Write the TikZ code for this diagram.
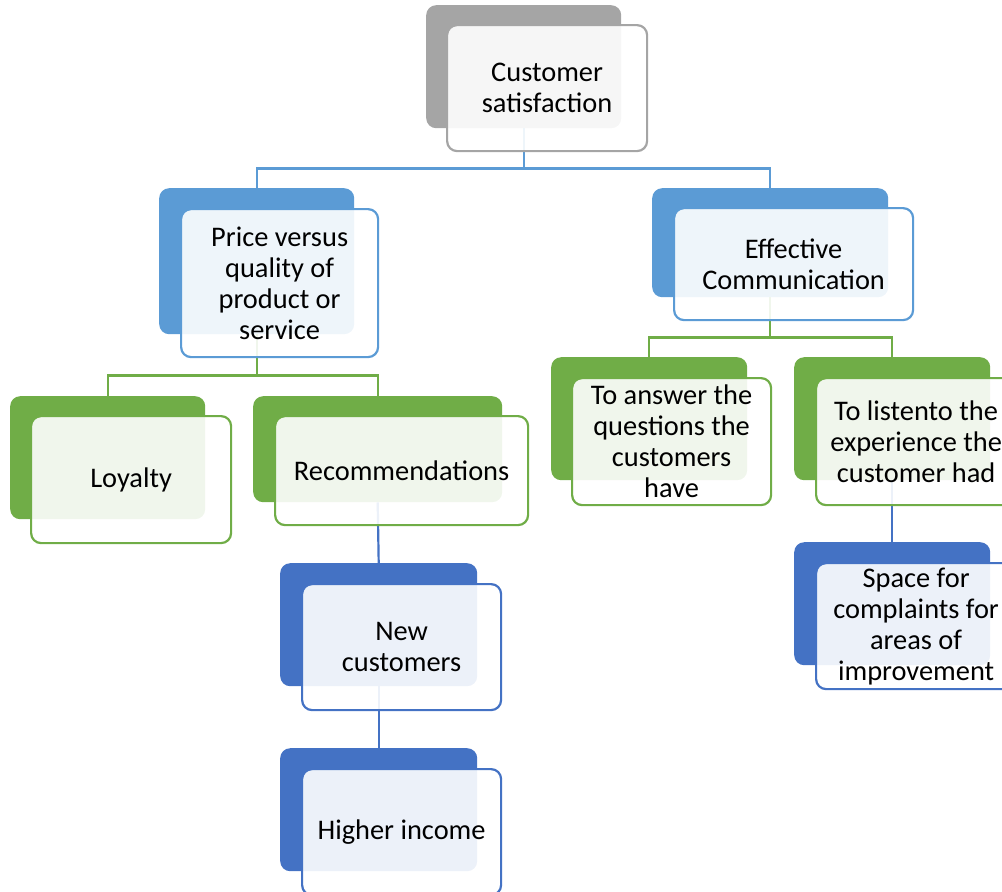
\documentclass[tikz,border=0pt]{standalone}
\usepackage{fontspec}
\setmainfont{Carlito}
\usetikzlibrary{calc}
\definecolor{cgray}{HTML}{A5A5A5}
\definecolor{cblue}{HTML}{5B9BD5}
\definecolor{cgreen}{HTML}{70AD47}
\definecolor{cdblue}{HTML}{4472C4}
\tikzset{
  backbox/.style={rectangle, rounded corners=10pt, fill=#1, draw=none,
    anchor=north west, inner sep=0pt},
  frontbox/.style={rectangle, rounded corners=10pt, fill=white, fill opacity=0.9,
    text opacity=1, draw=#1, line width=2.2pt, anchor=north west, inner sep=0pt,
    align=center, font=\fontsize{28.4}{31}\selectfont, text=black},
  conn/.style={draw=#1, line width=2.2pt},
}
\begin{document}
\begin{tikzpicture}[x=1pt, y=-1pt]
\useasboundingbox (0,0) rectangle (1002,892);

% back plates
\node[backbox=cgray, minimum width=195pt, minimum height=123pt] (csB) at (426,5) {};
\node[backbox=cblue, minimum width=195pt, minimum height=146pt] (pvB) at (159,188) {};
\node[backbox=cblue, minimum width=236pt, minimum height=109pt] (ecB) at (652,188) {};
\node[backbox=cgreen, minimum width=195pt, minimum height=123pt] (loB) at (10,396) {};
\node[backbox=cgreen, minimum width=249pt, minimum height=106pt] (reB) at (253,396) {};
\node[backbox=cgreen, minimum width=196pt, minimum height=123pt] (taB) at (551,357) {};
\node[backbox=cgreen, minimum width=196pt, minimum height=123pt] (tlB) at (794,357) {};
\node[backbox=cdblue, minimum width=197pt, minimum height=123pt] (ncB) at (280,563) {};
\node[backbox=cdblue, minimum width=197pt, minimum height=123pt] (hiB) at (280,748) {};
\node[backbox=cdblue, minimum width=196pt, minimum height=123pt] (spB) at (794,542) {};

% connectors between the back plates
\coordinate (j1) at ($(csB.south)+(0,40)$);
\draw[conn=cblue] (csB.south) -- (j1) -| (pvB.north);
\draw[conn=cblue] (j1) -| (ecB.north);
\coordinate (j2) at ($(pvB.south)+(0,41)$);
\draw[conn=cgreen] (pvB.south) -- (j2) -| (loB.north);
\draw[conn=cgreen] (j2) -| (reB.north);
\coordinate (j3) at ($(ecB.south)+(0,40)$);
\draw[conn=cgreen] (ecB.south) -- (j3) -| (taB.north);
\draw[conn=cgreen] (j3) -| (tlB.north);
\draw[conn=cdblue] (reB.south) -- (ncB.north);
\draw[conn=cdblue] (ncB.south) -- (hiB.north);
\draw[conn=cdblue] (tlB.south) -- (spB.north);

% front cards with the texts
\node[frontbox=cgray, minimum width=200pt, minimum height=126pt] (csF) at (446,24) {Customer\\satisfaction};
\node[frontbox=cblue, minimum width=197pt, minimum height=148pt] (pvF) at (180,208) {Price versus\\quality of\\product or\\service};
\node[frontbox=cblue, minimum width=239pt, minimum height=112pt] (ecF) at (673,207) {Effective\\Communication};
\node[frontbox=cgreen, minimum width=200pt, minimum height=127pt] (loF) at (30,415) {Loyalty};
\node[frontbox=cgreen, minimum width=253pt, minimum height=109pt] (reF) at (274,415) {Recommendations};
\node[frontbox=cgreen, minimum width=199pt, minimum height=127pt] (taF) at (571,377) {To answer the\\questions the\\customers\\have};
\node[frontbox=cgreen, minimum width=200pt, minimum height=127pt] (tlF) at (815,377) {To listento the\\experience the\\customer had};
\node[frontbox=cdblue, minimum width=199pt, minimum height=126pt] (ncF) at (301,583) {New\\customers};
\node[frontbox=cdblue, minimum width=199pt, minimum height=126pt] (hiF) at (301,768) {Higher income};
\node[frontbox=cdblue, minimum width=200pt, minimum height=126pt] (spF) at (815,562) {Space for\\complaints for\\areas of\\improvement};
\end{tikzpicture}
\end{document}
